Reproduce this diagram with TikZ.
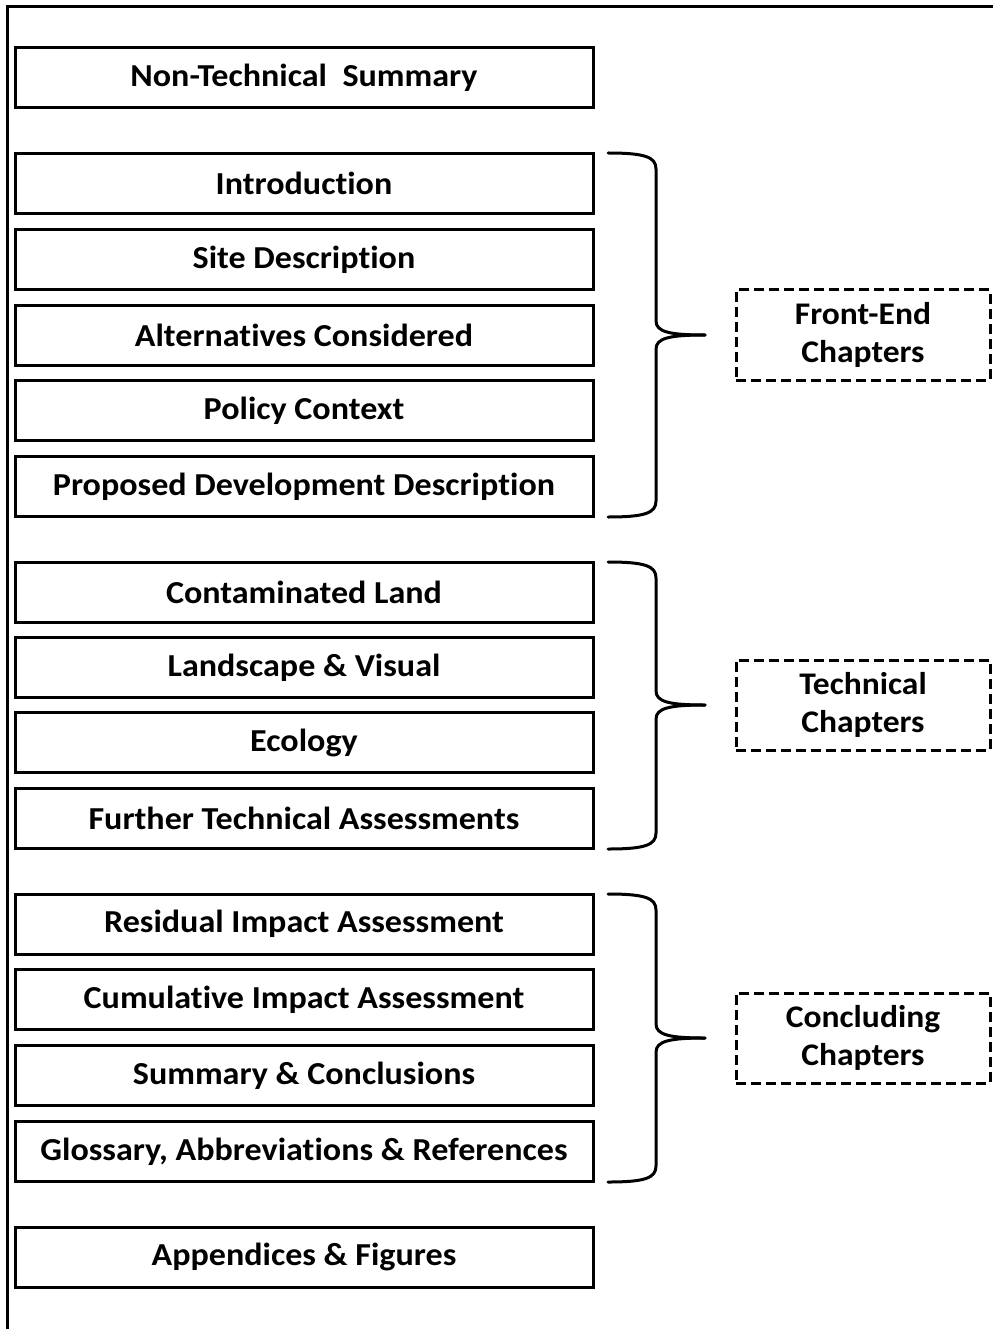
\documentclass[tikz,border=0pt]{standalone}
\usepackage{fontspec}
\setmainfont[FakeStretch=1.065,Ligatures=NoCommon]{Carlito}
\begin{document}
\begin{tikzpicture}[x=1pt,y=-1pt,
  chap/.style={draw,line width=3pt,minimum width=578pt,minimum height=60pt,inner sep=0pt,
    font=\fontsize{32}{38}\selectfont\bfseries},
  grp/.style={draw,dashed,dash pattern=on 10pt off 5pt,line width=3pt,minimum width=254pt,minimum height=90pt,
    align=center,inner sep=0pt,font=\fontsize{31.5}{38}\selectfont\bfseries},
  bracestyle/.style={line width=3pt,line cap=round,line join=round},
  framestyle/.style={line width=3pt}]
\fill[white] (0,0) rectangle (993,1329);
\useasboundingbox (0,0) rectangle (993,1329);
\coordinate (fa) at (7,1329);
\coordinate (fb) at (7,7);
\coordinate (fc) at (993,7);
\draw[framestyle] (fa) -- (fb) -- (fc);
% chapter boxes
\node[chap] (nts) at (304,78) {Non-Technical\ \ Summary};
\node[chap] (intro) at (304,183.5) {Introduction};
\node[chap] (site) at (304,259.5) {Site Description};
\node[chap] (alt) at (304,335) {Alternatives Considered};
\node[chap] (pol) at (304,410.5) {Policy Context};
\node[chap] (prop) at (304,486.5) {Proposed Development Description};
\node[chap] (cont) at (304,592) {Contaminated Land};
\node[chap] (land) at (304,667.5) {Landscape \& Visual};
\node[chap] (eco) at (304,742.5) {Ecology};
\node[chap] (fur) at (304,818.5) {Further Technical Assessments};
\node[chap] (res) at (304,924) {Residual Impact Assessment};
\node[chap] (cum) at (304,999.5) {Cumulative Impact Assessment};
\node[chap] (sum) at (304,1075.5) {Summary \& Conclusions};
\node[chap] (glo) at (304,1151.5) {Glossary, Abbreviations \& References};
\node[chap] (app) at (304,1257) {Appendices \& Figures};
% group boxes
\node[grp] (g1) at (863,335) {Front-End\\Chapters};
\node[grp] (g2) at (863,705) {Technical\\Chapters};
\node[grp] (g3) at (863,1038) {Concluding\\Chapters};
% braces
\foreach \T/\M/\B/\g in {153/335/517/g1, 562/705/849/g2, 894/1038/1182/g3}{
  \coordinate (bt\g) at (608,\T);
  \coordinate (bm\g) at (705,\M);
  \coordinate (bb\g) at (608,\B);
  \draw[bracestyle] (bt\g) .. controls +(37,0) and +(0,-12) .. ++(48,16)
     -- (656,\M-14) .. controls +(0,11) and +(-35,0) .. (bm\g);
  \draw[bracestyle] (bm\g) .. controls +(-35,0) and +(0,-11) .. (656,\M+14)
     -- (656,\B-16) .. controls +(0,12) and +(37,0) .. (bb\g);
}
\end{tikzpicture}
\end{document}
